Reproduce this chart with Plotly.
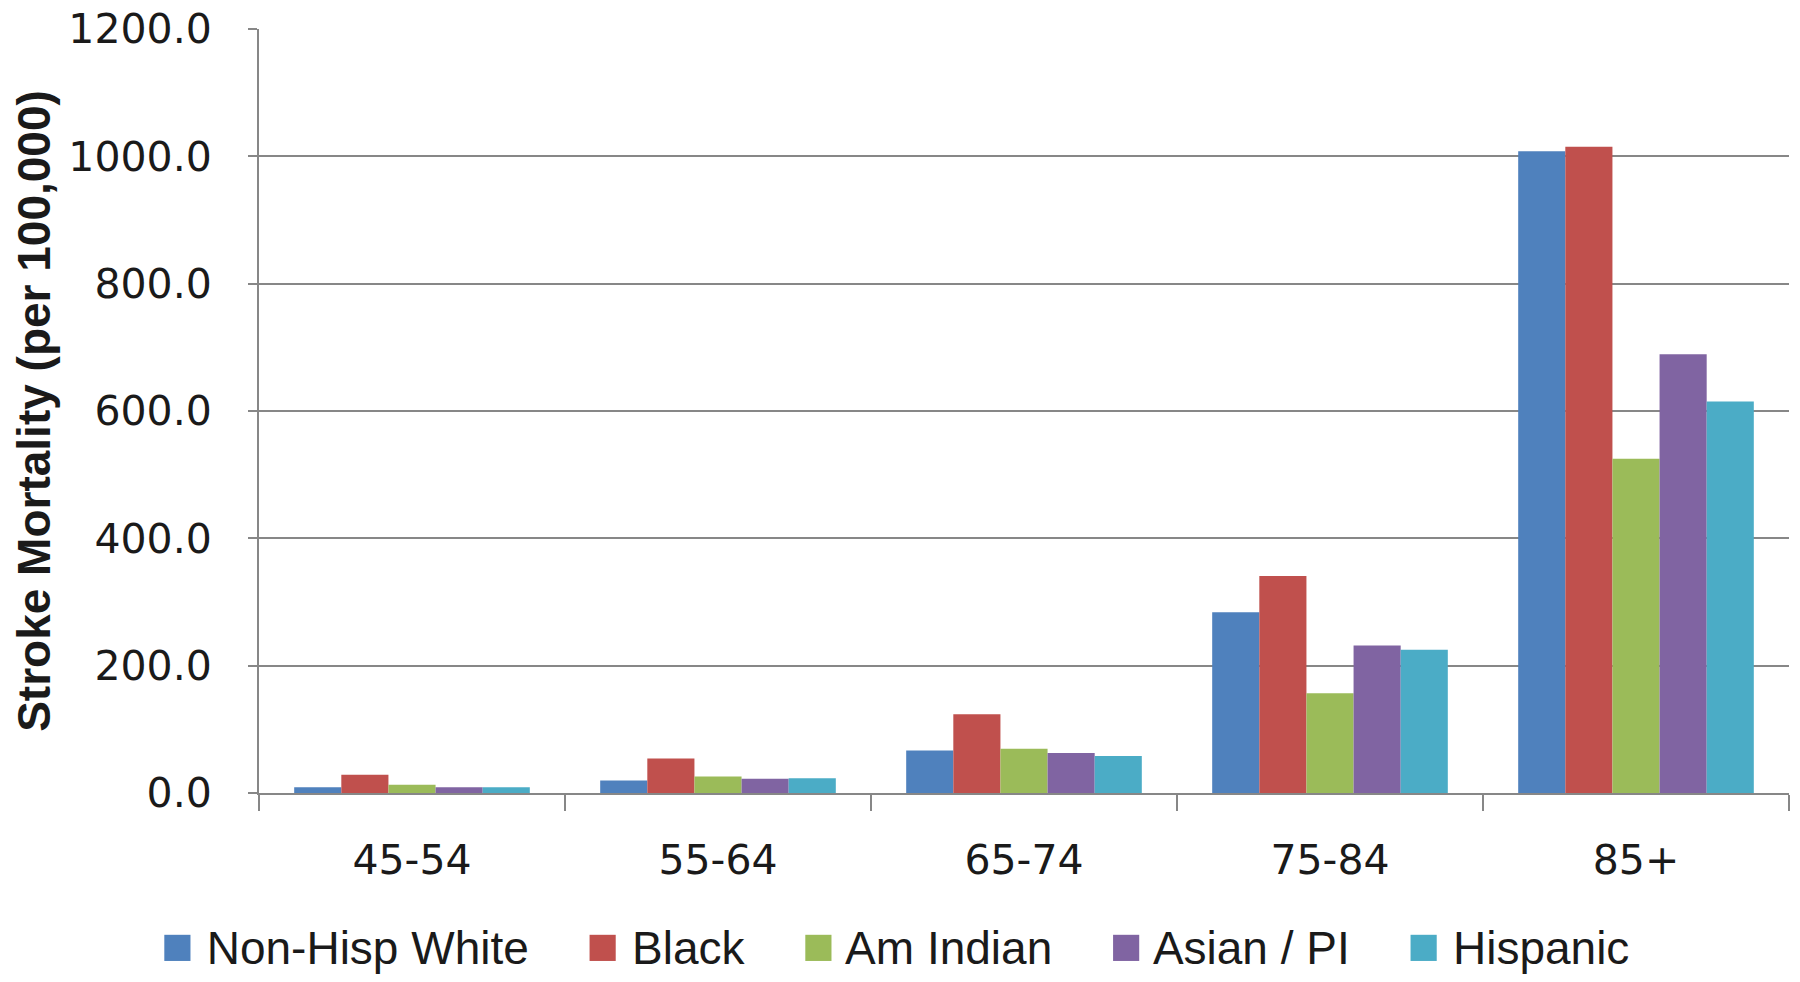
import plotly.graph_objects as go

categories = ["45-54", "55-64", "65-74", "75-84", "85+"]
series_names = ["Non-Hisp White", "Black", "Am Indian", "Asian / PI", "Hispanic"]
non_hisp_white = [8.9, 19.8, 66.8, 284.0, 1008.0]
black = [28.7, 54.0, 123.6, 341.0, 1015.0]
am_indian = [13.0, 26.0, 69.4, 156.5, 525.0]
asian_pi = [8.9, 22.4, 63.0, 231.6, 689.0]
hispanic = [8.9, 23.0, 58.0, 225.0, 615.0]
colors = ["#4F81BD", "#C0504D", "#9BBB59", "#8064A2", "#4BACC6"]

series = [non_hisp_white, black, am_indian, asian_pi, hispanic]

fig = go.Figure()
for name, vals, col in zip(series_names, series, colors):
    fig.add_trace(go.Bar(x=categories, y=vals, name=name, marker=dict(color=col, line=dict(width=0)),
                         showlegend=False))
# legend entries: coloured square glyph + label (plotly caps legend marker size)
for i, (name, col) in enumerate(zip(series_names, colors)):
    tail = "\u00a0" if i < len(series_names) - 1 else ""
    label = f'<span style="color:{col};font-size:54px">\u25A0</span> {name}{tail}'
    fig.add_trace(go.Scatter(x=[None], y=[None], mode="markers", name=label,
                             marker=dict(symbol="square", size=1, color="rgba(0,0,0,0)")))

tick_font = dict(family="DejaVu Sans, Verdana, sans-serif", size=41, color="#1a1a1a")
fig.update_layout(
    width=1792, height=974,
    paper_bgcolor="white", plot_bgcolor="white",
    margin=dict(l=251, r=11, t=21, b=189, autoexpand=False),
    barmode="group", bargap=0.23, bargroupgap=0,
    showlegend=True,
    legend=dict(orientation="h", x=-0.09, xanchor="left",
                y=-0.2, yanchor="middle",
                font=dict(family="Liberation Sans, Arial, sans-serif", size=46, color="#1a1a1a"),
                itemwidth=30, tracegroupgap=0, bgcolor="rgba(0,0,0,0)"),
    xaxis=dict(type="category", tickson="boundaries", ticks="outside", ticklen=16, tickwidth=2,
               tickcolor="#878787", showline=True, linecolor="#878787", linewidth=2,
               showgrid=False, tickfont=tick_font, ticklabelstandoff=30, automargin=False),
    yaxis=dict(range=[0, 1200], dtick=200, tickformat=".1f", ticks="outside", ticklen=9,
               tickwidth=2, tickcolor="#878787", showline=True, linecolor="#878787", linewidth=2,
               showgrid=True, gridcolor="#878787", gridwidth=2, zeroline=False,
               tickfont=tick_font, ticklabelstandoff=28, automargin=False,
               ticklabeloverflow="allow",
               title=dict(text="<b>Stroke Mortality (per 100,000)</b>", standoff=20,
                          font=dict(family="Liberation Sans, Arial, sans-serif", size=46,
                                    color="#1a1a1a"))),
)

fig.write_html("out.html")
